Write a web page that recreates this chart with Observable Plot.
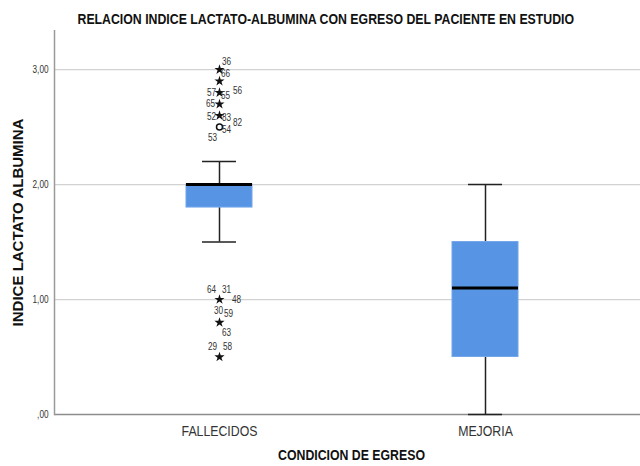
<!DOCTYPE html>
<html>
<head>
<meta charset="utf-8">
<script src="https://cdn.jsdelivr.net/npm/d3@7"></script>
<script src="https://cdn.jsdelivr.net/npm/@observablehq/plot@0.6"></script>
<style>
  html, body { margin: 0; padding: 0; background: #fff; }
  body { width: 640px; height: 466px; overflow: hidden; font-family: "Liberation Sans", Arial, sans-serif; }
  #title { height: 30px; line-height: 38px; text-align: center; padding-left: 12px; white-space: nowrap; }
  #title span { display: inline-block; font-size: 15px; font-weight: bold; color: #111; transform: scaleX(0.82); transform-origin: center; }
  #chart svg { display: block; font-family: "Liberation Sans", Arial, sans-serif; }
  #chart g[aria-label^="x-axis"] text { font-size: 15px; fill: #333; }
  #chart g[aria-label^="y-axis"] text { font-size: 10px; fill: #333; }
</style>
</head>
<body>
<div id="title"><span>RELACION INDICE LACTATO-ALBUMINA CON EGRESO DEL PACIENTE EN ESTUDIO</span></div>
<div id="chart"></div>
<script>
// Box summary per discharge condition
const groups = ["FALLECIDOS", "MEJORIA"];
const q1 = [1.8, 0.5];
const median = [2.0, 1.1];
const q3 = [2.0, 1.5];
const whiskerLow = [1.5, 0.0];
const whiskerHigh = [2.2, 2.0];

// Extreme values (stars) and outliers (circles), all in FALLECIDOS
const extremeValues = [3.0, 2.9, 2.8, 2.7, 2.6, 1.0, 0.8, 0.5];
const outlierValues = [2.5];

// Case numbers printed beside the atypical points
const caseIds = [36, 66, 57, 55, 56, 65, 52, 83, 82, 54, 53, 64, 31, 48, 30, 59, 63, 29, 58];
const caseValues = [3.0, 2.9, 2.8, 2.8, 2.8, 2.7, 2.6, 2.6, 2.6, 2.5, 2.5, 1.0, 1.0, 1.0, 0.8, 0.8, 0.8, 0.5, 0.5];

const yTicks = [0, 1, 2, 3];
const yTickLabels = [",00", "1,00", "2,00", "3,00"];

// Label placement around each point (pixels), keyed by case number
const labelOffset = {
  36: [7, -8], 66: [6, -7], 57: [-8, 0], 55: [6, 3], 56: [18, -2],
  65: [-9, 0], 52: [-8, 1], 83: [7, 2], 82: [18, 7], 54: [7, 3], 53: [-7, 11],
  64: [-8, -10], 31: [7, -10], 48: [17, 0], 30: [-1, -12], 59: [9, -9],
  63: [7, 10], 29: [-7, -10], 58: [8, -10]
};

const boxes = groups.map((g, i) => ({
  group: g, q1: q1[i], median: median[i], q3: q3[i], lo: whiskerLow[i], hi: whiskerHigh[i]
}));
const extremes = extremeValues.map(v => ({group: groups[0], value: v}));
const outliers = outlierValues.map(v => ({group: groups[0], value: v}));
const cases = caseIds.map((id, i) => ({
  group: groups[0], value: caseValues[i], id: String(id),
  dx: labelOffset[id][0], dy: labelOffset[id][1]
}));

const blue = "#5794e4";

const labelMarks = cases.map(c =>
  Plot.text([c], {x: "group", y: "value", text: "id", dx: c.dx, dy: c.dy, fontSize: 10, fill: "#333"})
);

const chart = Plot.plot({
  width: 640,
  height: 436,
  marginLeft: 54,
  marginRight: 0,
  marginTop: 0,
  marginBottom: 52,
  x: {
    type: "band", domain: groups,
    paddingInner: 0.7528, paddingOuter: 0.474, align: 0.518,
    tickSize: 0, tickPadding: 11, label: null
  },
  y: {
    domain: [0, 3.34],
    ticks: yTicks,
    tickFormat: d => yTickLabels[yTicks.indexOf(d)],
    tickSize: 0, tickPadding: 6, label: null
  },
  marks: [
    Plot.ruleY([1, 2, 3], {stroke: "#d2d2d2", strokeWidth: 1.2}),
    Plot.ruleY([0], {stroke: "#8c8c8c", strokeWidth: 1.5}),
    Plot.frame({anchor: "left", stroke: "#9a9a9a", strokeWidth: 1.5}),
    // whiskers
    Plot.ruleX(boxes, {x: "group", y1: "q3", y2: "hi", stroke: "#222", strokeWidth: 1.5}),
    Plot.ruleX(boxes, {x: "group", y1: "lo", y2: "q1", stroke: "#222", strokeWidth: 1.5}),
    Plot.tickY(boxes, {x: "group", y: "hi", stroke: "#222", strokeWidth: 1.5, insetLeft: 16, insetRight: 16}),
    Plot.tickY(boxes, {x: "group", y: "lo", stroke: "#222", strokeWidth: 1.5, insetLeft: 16, insetRight: 16}),
    // boxes and medians
    Plot.barY(boxes, {x: "group", y1: "q1", y2: "q3", fill: blue, stroke: "#73a6ea", strokeWidth: 1}),
    Plot.tickY(boxes, {x: "group", y: "median", stroke: "#000", strokeWidth: 3}),
    // atypical points
    Plot.dot(extremes, {x: "group", y: "value", symbol: "star", r: 3.2, fill: "#111", stroke: "none"}),
    Plot.dot(outliers, {x: "group", y: "value", symbol: "circle", r: 3, fill: "none", stroke: "#111", strokeWidth: 1.5}),
    ...labelMarks,
    // axis titles
    Plot.text(["INDICE LACTATO ALBUMINA"], {frameAnchor: "left", textAnchor: "middle", dx: -36, rotate: -90, fontSize: 15, fontWeight: "bold", fill: "#111", className: "upright"}),
    Plot.text(["CONDICION DE EGRESO"], {frameAnchor: "bottom", textAnchor: "middle", dx: 4, dy: 45, fontSize: 15, fontWeight: "bold", fill: "#111"})
  ]
});

document.getElementById("chart").appendChild(chart);

// Narrow lettering: compress horizontal texts (the rotated axis title keeps its length)
chart.querySelectorAll("text").forEach(t => {
  if (t.closest(".upright")) return;
  const w = t.getComputedTextLength();
  if (w > 0) {
    t.setAttribute("textLength", (w * 0.82).toFixed(2));
    t.setAttribute("lengthAdjust", "spacingAndGlyphs");
  }
});
</script>
</body>
</html>
